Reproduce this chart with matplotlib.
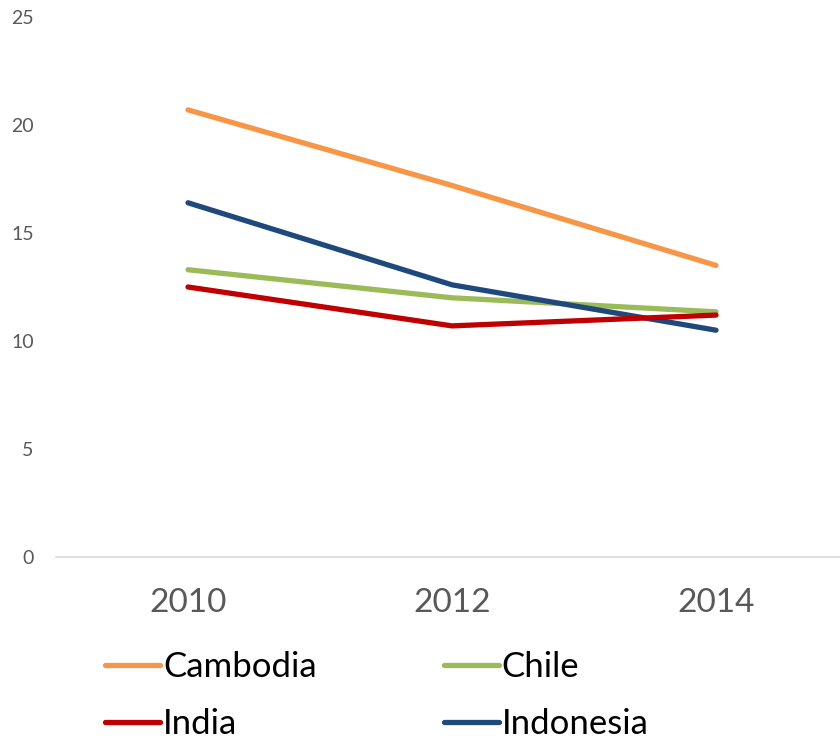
import matplotlib
matplotlib.use("Agg")
import matplotlib.pyplot as plt

plt.rcParams['font.family'] = ['Lato', 'DejaVu Sans']

years = ["2010", "2012", "2014"]
cambodia = [20.7, 17.2, 13.5]
chile = [13.3, 12.0, 11.35]
india = [12.5, 10.7, 11.2]
indonesia = [16.4, 12.6, 10.5]

series = [
    ("Cambodia", cambodia, "#F79646"),
    ("India", india, "#C00000"),
    ("Chile", chile, "#9BBB59"),
    ("Indonesia", indonesia, "#1F497D"),
]

fig = plt.figure(figsize=(8.4, 7.38), dpi=100)
ax = fig.add_axes([56 / 840, (738 - 557) / 738, 792 / 840, 540 / 738])

x = list(range(len(years)))
draw_order = ["Cambodia", "Chile", "Indonesia", "India"]
lines = {}
for name, vals, color in series:
    (ln,) = ax.plot(x, vals, color=color, lw=3.8, solid_capstyle='round',
                    label=name, zorder=3 + draw_order.index(name))
    lines[name] = ln

ax.set_xlim(-0.5, 2.5)
ax.set_ylim(0, 25)
ax.set_yticks([0, 5, 10, 15, 20, 25])
ax.set_xticks(x)
ax.set_xticklabels(years)
ax.tick_params(axis='y', length=0, labelsize=14, labelcolor='#595959', pad=16)
ax.tick_params(axis='x', length=0, labelsize=24, labelcolor='#595959', pad=22)
for s in ['top', 'right', 'left']:
    ax.spines[s].set_visible(False)
ax.spines['bottom'].set_color('#D9D9D9')
ax.spines['bottom'].set_linewidth(1.2)

handles = [lines[n] for n, _, _ in series]
fig.legend(handles, [n for n, _, _ in series], ncol=2, frameon=False,
           loc='upper left', bbox_to_anchor=(105 / 840, 1 - 651 / 738),
           fontsize=25, handlelength=1.58, handletextpad=0.09,
           columnspacing=3.66, labelspacing=0.72, borderpad=0, borderaxespad=0)

fig.savefig("out.png", dpi=100)
